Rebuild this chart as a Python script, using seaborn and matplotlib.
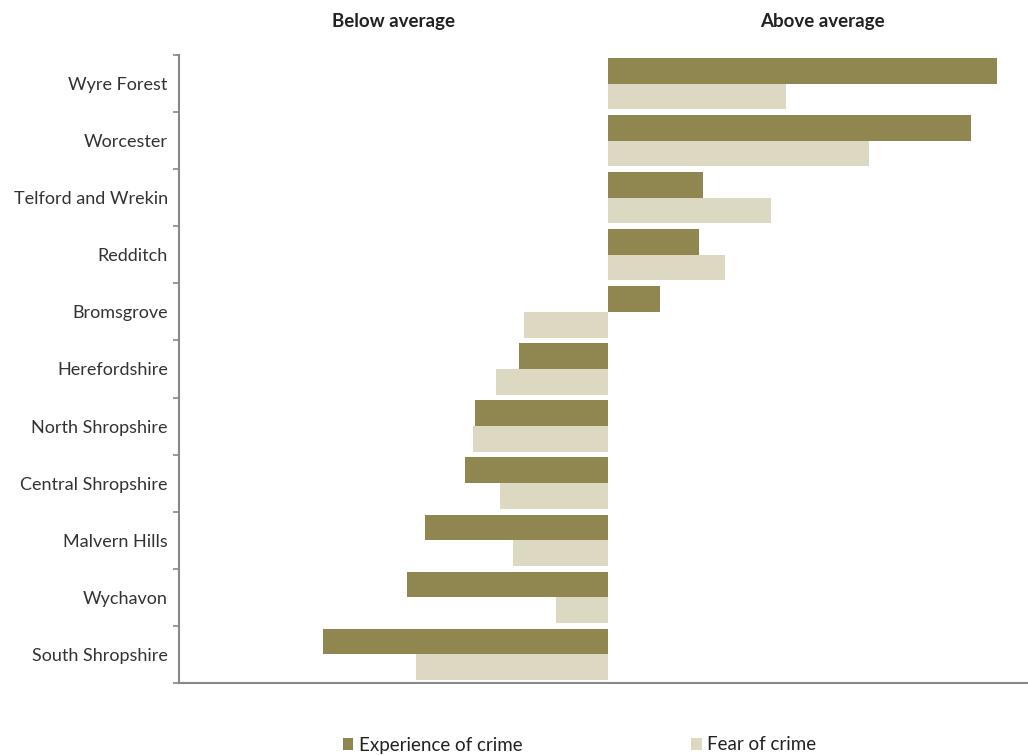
import pandas as pd
import matplotlib.pyplot as plt
import seaborn as sns

# index relative to the regional average (0 = average)
areas = ['Wyre Forest', 'Worcester', 'Telford and Wrekin', 'Redditch', 'Bromsgrove',
         'Herefordshire', 'North Shropshire', 'Central Shropshire', 'Malvern Hills',
         'Wychavon', 'South Shropshire']
experience = [3.89, 3.63, 0.95, 0.91, 0.52, -0.89, -1.33, -1.43, -1.83, -2.01, -2.85]
fear = [1.78, 2.61, 1.63, 1.17, -0.84, -1.12, -1.35, -1.08, -0.95, -0.52, -1.92]
series = ['Experience of crime', 'Fear of crime']
colours = ['#8f8650', '#ddd8c1']

df = pd.DataFrame({'area': areas * 2,
                   'value': experience + fear,
                   'series': [series[0]] * len(areas) + [series[1]] * len(areas)})

sns.set_style('white')
plt.rcParams['font.family'] = ['Lato', 'DejaVu Sans']

fig = plt.figure(figsize=(10.28, 7.55), dpi=100)
ax = fig.add_axes([0.1741, 0.0954, 0.8259, 0.8318])

sns.barplot(data=df, y='area', x='value', hue='series', order=areas,
            hue_order=series, palette=colours, orient='h', width=0.9,
            saturation=1, linewidth=0, ax=ax)

ax.set_xlim(-4.29, 4.20)
ax.set_ylim(len(areas) - 0.5, -0.5)
ax.set_xlabel('')
ax.set_ylabel('')
ax.set_xticks([])
ax.tick_params(axis='y', which='major', length=0, labelsize=13, pad=8, labelcolor='#333333')
ax.set_yticks([i + 0.5 for i in range(-1, len(areas))], minor=True)
ax.tick_params(axis='y', which='minor', left=True, length=4, width=1.2,
               color='#888888', direction='out')

for side in ['top', 'right']:
    ax.spines[side].set_visible(False)
for side in ['left', 'bottom']:
    ax.spines[side].set_color('#888888')
    ax.spines[side].set_linewidth(1.5)

fig.text(394 / 1028, 1 - 22 / 755, 'Below average', ha='center', va='center',
         fontsize=13.5, fontweight='bold', color='#222222')
fig.text(822 / 1028, 1 - 22 / 755, 'Above average', ha='center', va='center',
         fontsize=13.5, fontweight='bold', color='#222222')

handles, labels = ax.get_legend_handles_labels()
ax.get_legend().remove()
fig.legend(handles, labels, loc='center', bbox_to_anchor=(0.564, 1 - 745 / 755),
           ncol=2, frameon=False, fontsize=13.5, handlelength=0.55, handleheight=0.55,
           handletextpad=0.3, columnspacing=9.0, labelcolor='#222222')

fig.savefig('out.png', dpi=100)
